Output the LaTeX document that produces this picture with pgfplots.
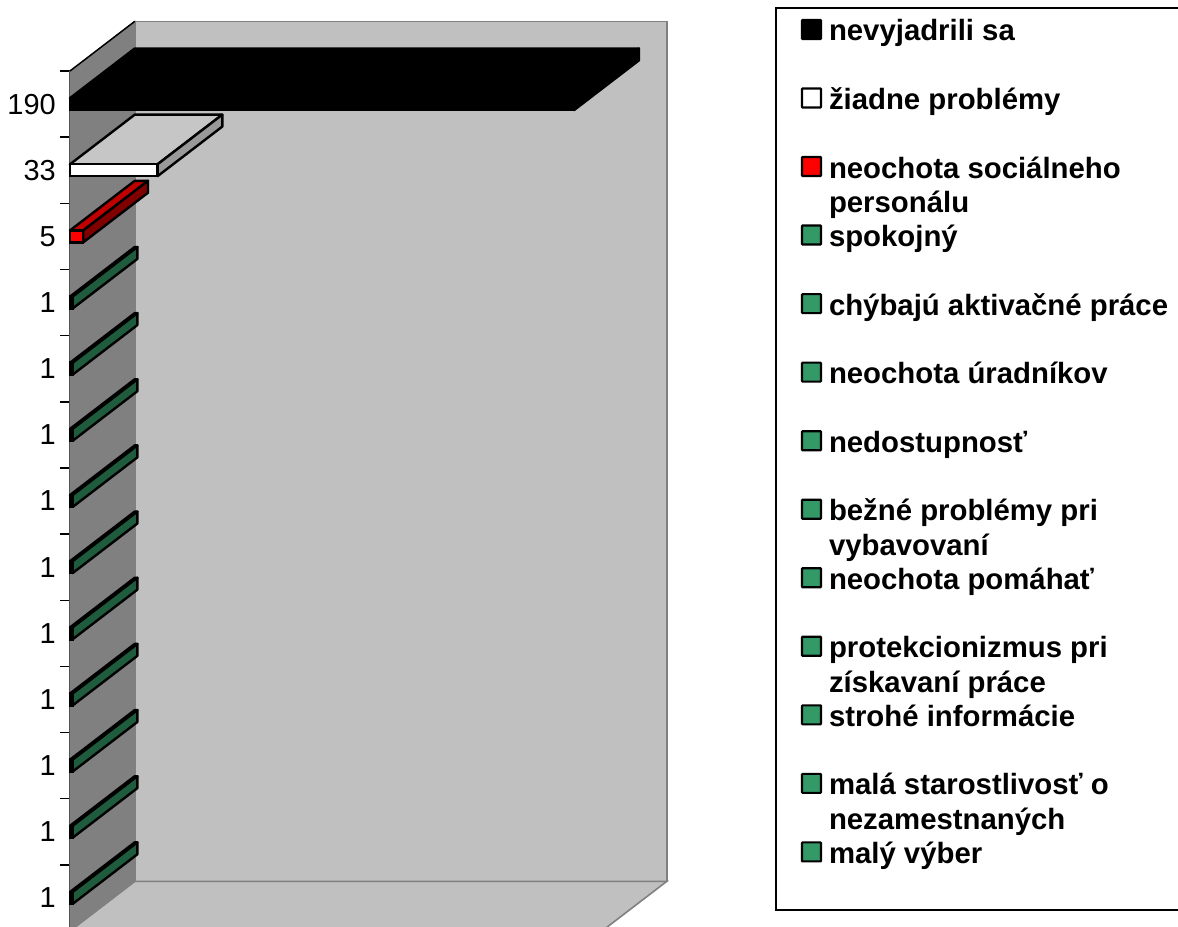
\documentclass[border=0pt]{standalone}
\usepackage{fontspec}
\setmainfont{Liberation Sans}
\usepackage{pgfplots}
\pgfplotsset{compat=1.18}
\newlength\px \setlength\px{0.75pt}
\definecolor{wallback}{HTML}{C0C0C0}
\definecolor{wallside}{HTML}{808080}
\definecolor{wallline}{HTML}{808080}
\definecolor{grn}{HTML}{339966}
\definecolor{grntop}{HTML}{26734D}
\definecolor{grnside}{HTML}{1F5C3D}
\definecolor{rdtop}{HTML}{C00000}
\definecolor{rdside}{HTML}{800000}
\definecolor{whtop}{HTML}{C6C6C6}
\definecolor{whside}{HTML}{999999}
% depth of the oblique projection, in axis units
\def\dx{24.4}
\def\dy{0.75}
\def\hh{0.09}
\newcommand\legcell[2]{\makebox[380\px][l]{\smash{#2}}\rule{0pt}{#1}}
\newcommand\legtwo[2]{\vtop{\baselineskip=34.33\px\hbox{#1}\hbox{#2}}}
\newcommand\tdbar[6]{%
  % #1 category position, #2 value, #3 front, #4 top, #5 side, #6 legend text
  \pgfmathsetmacro\yb{#1-0.5-\hh}%
  \pgfmathsetmacro\yt{#1-0.5+\hh}%
  \pgfmathsetmacro\ybb{\yb+\dy}%
  \pgfmathsetmacro\ytt{\yt+\dy}%
  \pgfmathsetmacro\xr{#2+\dx}%
  \addplot[forget plot,draw=black,line width=1.8pt,line join=round,fill=#4]
     coordinates {(0,\yt) (#2,\yt) (\xr,\ytt) (\dx,\ytt)} --cycle;
  \addplot[forget plot,draw=black,line width=1.8pt,line join=round,fill=#5]
     coordinates {(#2,\yb) (#2,\yt) (\xr,\ytt) (\xr,\ybb)} --cycle;
  \addplot[xbar,bar width=12\px,bar shift=0pt,draw=black,line width=1.8pt,fill=#3,
     legend image code/.code={%
       \path[draw=none,fill=none] (-26\px,0) (27\px,0.1\px);
       \draw[black,line width=1.6pt,fill=#3,rounded corners=0.5pt,overlay] (0\px,2\px) rectangle (19\px,21\px);
     }]
     coordinates {(#2,#1-0.5)};
  \addlegendentry{#6}%
}
\begin{document}
\begin{tikzpicture}
\useasboundingbox (0,0) rectangle (1178\px,926\px);
\clip (0,0) rectangle (1178\px,926\px);
\begin{axis}[
  at={(70\px,-5\px)},anchor=south west,
  scale only axis,width=532\px,height=860\px,
  xmin=0,xmax=200.5,ymin=0,ymax=13,
  clip=false,
  axis x line=none,
  axis y line=left,
  y axis line style={-,line width=1.9pt,black},
  ytick={0.5,1.5,2.5,3.5,4.5,5.5,6.5,7.5,8.5,9.5,10.5,11.5,12.5},
  yticklabels={1,1,1,1,1,1,1,1,1,1,5,33,190},
  minor ytick={0,1,2,3,4,5,6,7,8,9,10,11,12,13},
  major tick length=0pt,
  minor tick length=10\px,
  tick align=outside,
  minor tick style={black,line width=1.1pt},
  major tick style={draw=none},
  yticklabel style={font=\fontsize{21.7pt}{24pt}\selectfont,text=black,inner sep=0pt,xshift=-14\px},
  legend cell align=left,
  legend style={
    at={(axis description cs:1.3252,1.0745)},anchor=north west,
    draw=black,line width=1.5pt,fill=white,
    inner sep=0pt,row sep=0pt,column sep=0pt,
    font=\bfseries\fontsize{22pt}{24pt}\selectfont,
    nodes={inner sep=0pt,outer sep=0pt,line width=0pt,anchor=base west},
  },
]
% walls and floor
\addplot[forget plot,draw=wallline,line width=1.2pt,fill=wallback]
  coordinates {(24.4,0.75) (224.9,0.75) (224.9,13.75) (24.4,13.75)} --cycle;
\addplot[forget plot,draw=wallline,line width=1.2pt,fill=wallback]
  coordinates {(0,0) (200.5,0) (224.9,0.75) (24.4,0.75)} --cycle;
\addplot[forget plot,draw=wallline,line width=0.8pt,fill=wallside]
  coordinates {(0,0) (24.4,0.75) (24.4,13.75) (0,13)} --cycle;
\addplot[forget plot,draw=black,line width=1.1pt]
  coordinates {(0,13) (24.4,13.75)};
% bars
\tdbar{13}{190}{black}{black}{black}{\legcell{33\px}{nevyjadrili sa}}
\tdbar{12}{33}{white}{whtop}{whside}{\legcell{66.54\px}{žiadne problémy}}
\tdbar{11}{5}{red}{rdtop}{rdside}{\legcell{66.54\px}{\legtwo{neochota sociálneho}{personálu}}}
\tdbar{10}{1}{grn}{grntop}{grnside}{\legcell{66.54\px}{spokojný}}
\tdbar{9}{1}{grn}{grntop}{grnside}{\legcell{66.54\px}{chýbajú aktivačné práce}}
\tdbar{8}{1}{grn}{grntop}{grnside}{\legcell{66.54\px}{neochota úradníkov}}
\tdbar{7}{1}{grn}{grntop}{grnside}{\legcell{66.54\px}{nedostupnosť}}
\tdbar{6}{1}{grn}{grntop}{grnside}{\legcell{66.54\px}{\legtwo{bežné problémy pri}{vybavovaní}}}
\tdbar{5}{1}{grn}{grntop}{grnside}{\legcell{66.54\px}{neochota pomáhať}}
\tdbar{4}{1}{grn}{grntop}{grnside}{\legcell{66.54\px}{\legtwo{protekcionizmus pri}{získavaní práce}}}
\tdbar{3}{1}{grn}{grntop}{grnside}{\legcell{66.54\px}{strohé informácie}}
\tdbar{2}{1}{grn}{grntop}{grnside}{\legcell{66.54\px}{\legtwo{malá starostlivosť o}{nezamestnaných}}}
\tdbar{1}{1}{grn}{grntop}{grnside}{\legcell{66.54\px}{malý výber}}
% blank last row: the space under the last entry of the legend box
\addlegendimage{legend image code/.code={\path[draw=none,fill=none] (-26\px,0) (27\px,0.1\px);}}
\addlegendentry{\rule{0pt}{42.9\px}}
\end{axis}
\end{tikzpicture}
\end{document}
